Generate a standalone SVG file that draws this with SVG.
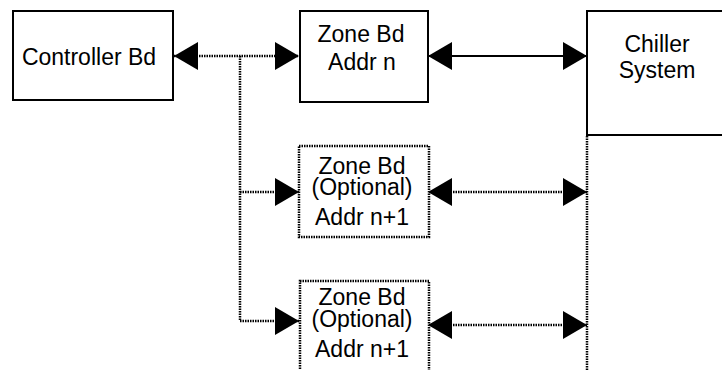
<svg xmlns="http://www.w3.org/2000/svg" width="722" height="370" viewBox="0 0 722 370">
<style>
.box{fill:#fff;stroke:#000;stroke-width:2}
.dbox{fill:#fff;stroke:#000;stroke-width:2.5;stroke-dasharray:1.5 1}
.t{font-family:"Liberation Sans",Arial,sans-serif;font-size:23px;fill:#000;text-anchor:middle}
.solid{fill:none;stroke:#000;stroke-width:2}
.dot{fill:none;stroke:#000;stroke-width:2.5;stroke-dasharray:1.5 1}
</style>
<defs>
<marker id="ah" markerUnits="userSpaceOnUse" markerWidth="24" markerHeight="28" refX="24" refY="14" orient="auto-start-reverse" viewBox="0 0 24 28">
<path d="M0,0 L24,14 L0,28 Z" fill="#000"/>
</marker>
</defs>
<g id="connectors">
<line class="dot" x1="174" y1="56" x2="299" y2="56" marker-start="url(#ah)" marker-end="url(#ah)"/>
<polyline class="dot" points="240,56 240,321 299,321" marker-end="url(#ah)"/>
<line class="dot" x1="240" y1="192" x2="299" y2="192" marker-end="url(#ah)"/>
<line class="solid" x1="428" y1="56" x2="587" y2="56" marker-start="url(#ah)" marker-end="url(#ah)"/>
<line class="dot" x1="428" y1="192" x2="587" y2="192" marker-start="url(#ah)" marker-end="url(#ah)"/>
<line class="dot" x1="428" y1="325" x2="587" y2="325" marker-start="url(#ah)" marker-end="url(#ah)"/>
<line class="dot" x1="587" y1="136" x2="587" y2="370"/>
</g>
<g id="controller">
<rect class="box" x="13" y="11" width="160" height="89"/>
<text class="t" x="89" y="65">Controller Bd</text>
</g>
<g id="zone-n">
<rect class="box" x="300" y="11" width="128" height="91"/>
<text class="t" x="361" y="42">Zone Bd</text>
<text class="t" x="362" y="70">Addr n</text>
</g>
<g id="chiller">
<rect class="box" x="587" y="11" width="140" height="124"/>
<text class="t" x="657" y="52">Chiller</text>
<text class="t" x="657" y="78">System</text>
</g>
<g id="zone-opt-1">
<rect class="dbox" x="299" y="146" width="130" height="91"/>
<text class="t" x="362" y="174">Zone Bd</text>
<text class="t" x="362" y="195">(Optional)</text>
<text class="t" x="362" y="225">Addr n+1</text>
</g>
<g id="zone-opt-2">
<rect class="dbox" x="300" y="281" width="129" height="100"/>
<text class="t" x="362" y="305">Zone Bd</text>
<text class="t" x="362" y="327">(Optional)</text>
<text class="t" x="362" y="357">Addr n+1</text>
</g>
</svg>
